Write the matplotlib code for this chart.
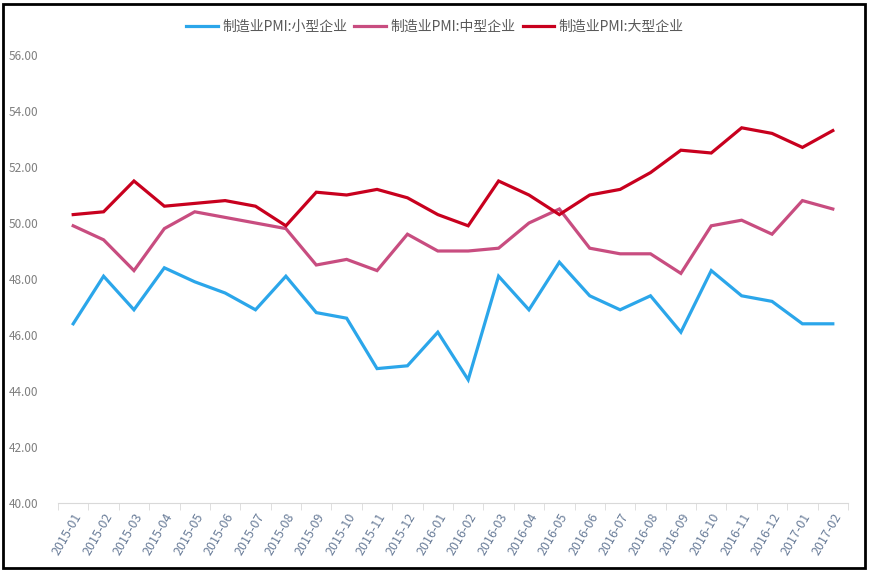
import matplotlib.pyplot as plt
from matplotlib.patches import Rectangle
import numpy as np

plt.rcParams['font.family'] = ['Noto Sans CJK SC', 'DejaVu Sans']

months = ['2015-01', '2015-02', '2015-03', '2015-04', '2015-05', '2015-06',
          '2015-07', '2015-08', '2015-09', '2015-10', '2015-11', '2015-12',
          '2016-01', '2016-02', '2016-03', '2016-04', '2016-05', '2016-06',
          '2016-07', '2016-08', '2016-09', '2016-10', '2016-11', '2016-12',
          '2017-01', '2017-02']

small = [46.4, 48.1, 46.9, 48.4, 47.9, 47.5, 46.9, 48.1, 46.8, 46.6, 44.8, 44.9,
         46.1, 44.4, 48.1, 46.9, 48.6, 47.4, 46.9, 47.4, 46.1, 48.3, 47.4, 47.2,
         46.4, 46.4]
medium = [49.9, 49.4, 48.3, 49.8, 50.4, 50.2, 50.0, 49.8, 48.5, 48.7, 48.3, 49.6,
          49.0, 49.0, 49.1, 50.0, 50.5, 49.1, 48.9, 48.9, 48.2, 49.9, 50.1, 49.6,
          50.8, 50.5]
large = [50.3, 50.4, 51.5, 50.6, 50.7, 50.8, 50.6, 49.9, 51.1, 51.0, 51.2, 50.9,
         50.3, 49.9, 51.5, 51.0, 50.3, 51.0, 51.2, 51.8, 52.6, 52.5, 53.4, 53.2,
         52.7, 53.3]

names = ['制造业PMI:小型企业', '制造业PMI:中型企业', '制造业PMI:大型企业']
colors = ['#2BA6EA', '#C84D80', '#C8001E']

fig = plt.figure(figsize=(8.7, 5.75), dpi=100)
ax = fig.add_axes([58 / 870, 1 - 503 / 575, 790 / 870, 448 / 575])

x = np.arange(len(months))
for vals, name, c in zip([small, medium, large], names, colors):
    ax.plot(x, vals, color=c, lw=2.3, label=name, solid_joinstyle='miter')

ax.set_xlim(-0.5, len(months) - 0.5)
ax.set_ylim(40, 56)
ax.set_yticks(np.arange(40, 57, 2))
ax.set_yticklabels(['%.2f' % v for v in np.arange(40, 57, 2)])
ax.set_xticks(x)
ax.set_xticklabels(months, rotation=60, ha='right', rotation_mode='anchor')
ax.set_xticks(np.arange(-0.5, len(months)), minor=True)

for s in ['top', 'right', 'left']:
    ax.spines[s].set_visible(False)
ax.spines['bottom'].set_color('#d9d9d9')
ax.tick_params(axis='x', which='major', length=0, pad=6, labelsize=9, labelcolor='#6a7d99')
ax.tick_params(axis='x', which='minor', length=5, color='#d9d9d9')
ax.tick_params(axis='y', length=0, pad=8, labelsize=8.5, labelcolor='#7f7f7f')
for lbl in ax.get_yticklabels():
    lbl.set_horizontalalignment('left')
    lbl.set_x(-38 / 790)

fig.legend(loc='center', bbox_to_anchor=(435 / 870, 1 - 27 / 575), ncol=3,
           frameon=False, fontsize=10, handlelength=2.3, handletextpad=0.3,
           columnspacing=0.5, labelcolor='#595959')

fig.patches.append(Rectangle((3 / 870, 1 - 568 / 575), 862 / 870, 564 / 575,
                             transform=fig.transFigure, fill=False,
                             edgecolor='black', lw=2))

fig.savefig('out.png', dpi=100)
